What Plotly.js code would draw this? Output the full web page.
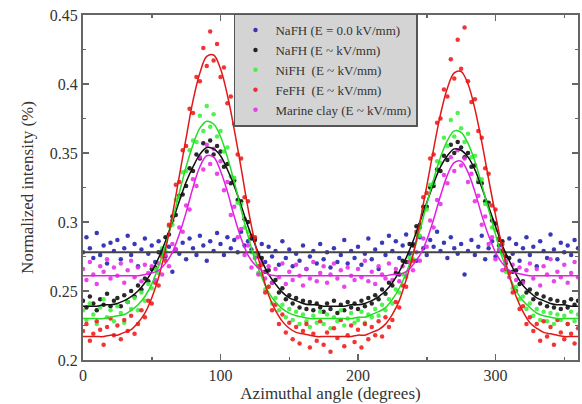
<!DOCTYPE html>
<html>
<head>
<meta charset="utf-8">
<script src="https://cdn.plot.ly/plotly-3.0.1.min.js"></script>
<style>html,body{margin:0;padding:0;background:#fff;}#chart{width:582px;height:404px;}</style>
</head>
<body>
<div id="chart"></div>
<script>
// Azimuthal angles of the measured points (degrees)
const angles = [0,2.5,5,7.5,10,12.5,15,17.5,20,22.5,25,27.5,30,32.5,35,37.5,40,42.5,45,47.5,50,52.5,55,57.5,60,62.5,65,67.5,70,72.5,75,77.5,80,82.5,85,87.5,90,92.5,95,97.5,100,102.5,105,107.5,110,112.5,115,117.5,120,122.5,125,127.5,130,132.5,135,137.5,140,142.5,145,147.5,150,152.5,155,157.5,160,162.5,165,167.5,170,172.5,175,177.5,180,182.5,185,187.5,190,192.5,195,197.5,200,202.5,205,207.5,210,212.5,215,217.5,220,222.5,225,227.5,230,232.5,235,237.5,240,242.5,245,247.5,250,252.5,255,257.5,260,262.5,265,267.5,270,272.5,275,277.5,280,282.5,285,287.5,290,292.5,295,297.5,300,302.5,305,307.5,310,312.5,315,317.5,320,322.5,325,327.5,330,332.5,335,337.5,340,342.5,345,347.5,350,352.5,355,357.5,360];

// Angles of the fitted curves (degrees)
const fitAngles = [0,5,10,15,20,25,30,35,40,45,50,55,60,65,70,75,80,85,90,95,100,105,110,115,120,125,130,135,140,145,150,155,160,165,170,175,180,185,190,195,200,205,210,215,220,225,230,235,240,245,250,255,260,265,270,275,280,285,290,295,300,305,310,315,320,325,330,335,340,345,350,355,360];

const seriesNames = ["NaFH (E = 0.0 kV/mm)", "NaFH (E ~ kV/mm)", "NiFH\u00a0 (E ~ kV/mm)", "FeFH\u00a0 (E ~ kV/mm)", "Marine clay (E ~ kV/mm)"];

const nafh0 = [0.278,0.289,0.281,0.274,0.292,0.276,0.283,0.270,0.285,0.279,
0.287,0.273,0.281,0.290,0.276,0.284,0.268,0.280,0.288,0.277,
0.283,0.271,0.286,0.279,0.275,0.282,0.264,0.280,0.277,0.285,
0.273,0.288,0.281,0.276,0.290,0.283,0.272,0.286,0.279,0.292,
0.284,0.276,0.289,0.281,0.287,0.278,0.293,0.283,0.286,0.280,
0.288,0.277,0.284,0.271,0.282,0.275,0.279,0.269,0.286,0.274,
0.280,0.268,0.277,0.272,0.283,0.266,0.275,0.279,0.270,0.284,
0.273,0.278,0.267,0.281,0.271,0.276,0.287,0.270,0.279,0.274,
0.282,0.269,0.277,0.288,0.273,0.280,0.266,0.285,0.276,0.290,
0.279,0.286,0.274,0.283,0.291,0.277,0.284,0.272,0.289,0.281,
0.276,0.287,0.282,0.293,0.279,0.285,0.274,0.289,0.281,0.277,
0.284,0.262,0.279,0.287,0.276,0.282,0.290,0.273,0.281,0.286,
0.275,0.283,0.279,0.270,0.288,0.277,0.284,0.272,0.281,0.289,
0.276,0.282,0.268,0.286,0.279,0.274,0.291,0.280,0.273,0.285,
0.278,0.283,0.276,0.287,0.281];

const nafhE = [0.243,0.238,0.246,0.241,0.236,0.244,0.240,0.248,0.239,0.243,
0.245,0.239,0.247,0.242,0.250,0.246,0.254,0.251,0.259,0.257,
0.266,0.267,0.278,0.277,0.289,0.291,0.304,0.305,0.319,0.320,
0.326,0.339,0.337,0.349,0.346,0.357,0.351,0.359,0.349,0.355,
0.351,0.340,0.342,0.328,0.330,0.316,0.315,0.302,0.300,0.288,
0.287,0.275,0.274,0.264,0.265,0.256,0.258,0.249,0.252,0.244,
0.247,0.241,0.245,0.238,0.243,0.237,0.242,0.236,0.241,0.238,
0.235,0.241,0.237,0.243,0.234,0.240,0.236,0.242,0.238,0.241,
0.237,0.243,0.239,0.245,0.241,0.247,0.244,0.251,0.248,0.256,
0.254,0.263,0.262,0.272,0.271,0.284,0.283,0.297,0.298,0.311,
0.311,0.325,0.326,0.338,0.337,0.348,0.345,0.356,0.350,0.358,
0.354,0.347,0.350,0.340,0.341,0.329,0.328,0.315,0.314,0.301,
0.299,0.287,0.286,0.275,0.274,0.264,0.265,0.255,0.257,0.249,
0.251,0.244,0.248,0.241,0.246,0.239,0.244,0.238,0.243,0.237,
0.242,0.238,0.244,0.240,0.243];

const nifh = [0.236,0.229,0.241,0.233,0.226,0.238,0.244,0.231,0.236,0.228,
0.239,0.234,0.227,0.242,0.237,0.245,0.236,0.249,0.243,0.255,
0.252,0.266,0.263,0.281,0.279,0.297,0.298,0.316,0.318,0.336,
0.337,0.352,0.359,0.358,0.377,0.366,0.384,0.369,0.378,0.362,
0.366,0.351,0.354,0.333,0.332,0.314,0.313,0.296,0.293,0.278,
0.276,0.263,0.262,0.251,0.253,0.241,0.245,0.236,0.240,0.231,
0.237,0.229,0.235,0.226,0.233,0.228,0.224,0.232,0.227,0.235,
0.226,0.233,0.223,0.231,0.228,0.236,0.225,0.230,0.234,0.227,
0.229,0.235,0.227,0.233,0.231,0.237,0.232,0.240,0.236,0.244,
0.241,0.251,0.249,0.262,0.260,0.274,0.273,0.291,0.290,0.308,
0.309,0.327,0.328,0.344,0.343,0.361,0.355,0.374,0.362,0.379,
0.368,0.358,0.364,0.347,0.348,0.331,0.331,0.313,0.312,0.296,
0.294,0.279,0.277,0.264,0.264,0.252,0.253,0.244,0.246,0.237,
0.241,0.232,0.237,0.229,0.235,0.228,0.234,0.226,0.233,0.229,
0.232,0.226,0.235,0.228,0.233];

const fefh = [0.221,0.226,0.214,0.219,0.228,0.222,0.211,0.224,0.230,0.218,
0.225,0.215,0.229,0.221,0.232,0.219,0.226,0.236,0.231,0.243,
0.241,0.256,0.254,0.275,0.272,0.298,0.301,0.327,0.329,0.352,
0.355,0.382,0.379,0.405,0.402,0.426,0.413,0.438,0.417,0.429,
0.405,0.412,0.386,0.391,0.371,0.349,0.346,0.318,0.315,0.290,
0.289,0.268,0.269,0.249,0.253,0.236,0.240,0.226,0.233,0.220,
0.227,0.215,0.224,0.212,0.221,0.226,0.209,0.219,0.214,0.228,
0.211,0.220,0.206,0.223,0.216,0.229,0.210,0.218,0.225,0.213,
0.222,0.209,0.226,0.215,0.224,0.218,0.228,0.217,0.231,0.224,
0.229,0.242,0.238,0.254,0.253,0.271,0.272,0.293,0.296,0.318,
0.321,0.346,0.349,0.372,0.375,0.396,0.391,0.418,0.404,0.432,
0.411,0.441,0.402,0.387,0.389,0.366,0.361,0.339,0.335,0.312,
0.309,0.288,0.284,0.266,0.263,0.249,0.250,0.237,0.239,0.226,
0.231,0.221,0.226,0.214,0.228,0.217,0.224,0.211,0.229,0.220,
0.215,0.226,0.219,0.212,0.223];

const marineClay = [0.266,0.258,0.271,0.262,0.255,0.268,0.264,0.273,0.259,0.267,
0.261,0.270,0.256,0.265,0.272,0.260,0.267,0.257,0.269,0.263,
0.268,0.258,0.270,0.262,0.276,0.268,0.284,0.280,0.296,0.293,
0.312,0.309,0.331,0.326,0.347,0.338,0.356,0.342,0.353,0.335,
0.344,0.323,0.329,0.305,0.311,0.289,0.295,0.276,0.283,0.267,
0.274,0.262,0.271,0.259,0.268,0.256,0.266,0.260,0.270,0.255,
0.264,0.258,0.269,0.261,0.254,0.266,0.259,0.271,0.257,0.263,
0.268,0.256,0.262,0.270,0.259,0.265,0.253,0.267,0.261,0.258,
0.266,0.260,0.272,0.257,0.264,0.255,0.268,0.262,0.259,0.270,
0.258,0.266,0.257,0.268,0.261,0.271,0.265,0.278,0.272,0.288,
0.282,0.301,0.296,0.316,0.313,0.334,0.328,0.347,0.337,0.352,
0.341,0.346,0.329,0.335,0.315,0.319,0.298,0.304,0.284,0.289,
0.273,0.280,0.265,0.272,0.260,0.269,0.258,0.267,0.256,0.265,
0.270,0.259,0.266,0.254,0.268,0.262,0.273,0.257,0.264,0.260,
0.269,0.256,0.263,0.271,0.260];

// Fitted curves
const flatFitAngles = [0, 360];
const flatFit = [0.278, 0.278];
const blackFit = [0.239,0.239,0.239,0.240,0.240,0.241,0.243,0.246,0.250,0.256,0.264,0.274,0.286,0.300,0.315,0.329,0.340,0.349,0.354,0.353,0.348,0.338,0.326,0.312,0.297,0.284,0.272,0.262,0.255,0.249,0.245,0.243,0.241,0.240,0.240,0.239,0.239,0.239,0.239,0.240,0.240,0.241,0.243,0.246,0.250,0.256,0.264,0.274,0.286,0.300,0.314,0.328,0.340,0.348,0.353,0.352,0.347,0.338,0.325,0.311,0.297,0.283,0.272,0.262,0.254,0.249,0.245,0.243,0.241,0.240,0.240,0.239,0.239];
const greenFit = [0.230,0.230,0.230,0.230,0.231,0.232,0.233,0.236,0.240,0.246,0.255,0.268,0.283,0.301,0.321,0.340,0.356,0.368,0.373,0.371,0.362,0.347,0.329,0.309,0.290,0.273,0.260,0.249,0.242,0.237,0.234,0.232,0.231,0.230,0.230,0.230,0.230,0.230,0.230,0.230,0.231,0.231,0.233,0.235,0.238,0.244,0.252,0.263,0.277,0.294,0.313,0.331,0.347,0.359,0.366,0.365,0.357,0.344,0.327,0.309,0.291,0.274,0.261,0.250,0.243,0.238,0.234,0.232,0.231,0.230,0.230,0.230,0.230];
const redFit = [0.217,0.217,0.217,0.217,0.218,0.218,0.220,0.222,0.227,0.234,0.245,0.260,0.280,0.305,0.333,0.361,0.388,0.408,0.420,0.421,0.411,0.392,0.367,0.339,0.310,0.285,0.264,0.247,0.236,0.228,0.223,0.220,0.219,0.218,0.217,0.217,0.217,0.217,0.217,0.217,0.218,0.218,0.220,0.222,0.226,0.233,0.243,0.258,0.276,0.300,0.326,0.353,0.378,0.397,0.408,0.409,0.400,0.382,0.358,0.331,0.305,0.281,0.261,0.246,0.235,0.227,0.223,0.220,0.219,0.218,0.217,0.217,0.217];
const magentaFit = [0.261,0.261,0.261,0.261,0.261,0.261,0.261,0.261,0.261,0.262,0.263,0.265,0.270,0.278,0.291,0.307,0.325,0.340,0.348,0.347,0.337,0.322,0.304,0.288,0.276,0.269,0.265,0.262,0.261,0.261,0.261,0.261,0.261,0.261,0.261,0.261,0.261,0.261,0.261,0.261,0.261,0.261,0.261,0.261,0.261,0.262,0.262,0.264,0.269,0.276,0.287,0.302,0.319,0.334,0.343,0.344,0.336,0.322,0.305,0.290,0.278,0.270,0.265,0.263,0.262,0.261,0.261,0.261,0.261,0.261,0.261,0.261,0.261];

const FONT = 'Liberation Serif';
const pointColors = ['#2323b0', '#111111', '#3ef03e', '#f01e1e', '#e632e6'];
const pointData = [nafh0, nafhE, nifh, fefh, marineClay];

const traces = [];
pointData.forEach((ys, i) => {
  traces.push({
    type: 'scatter', mode: 'markers', name: seriesNames[i],
    x: angles, y: ys,
    marker: {color: pointColors[i], size: 4.5, opacity: 0.9},
    hoverinfo: 'skip'
  });
});
const fitDefs = [
  [flatFitAngles, flatFit, '#444444', 2],
  [fitAngles, blackFit, '#111111', 1.5],
  [fitAngles, greenFit, '#22dd22', 1.5],
  [fitAngles, redFit, '#e01818', 1.5],
  [fitAngles, magentaFit, '#e020e0', 1.5]
];
fitDefs.forEach(d => {
  traces.push({
    type: 'scatter', mode: 'lines', x: d[0], y: d[1], showlegend: false,
    line: {color: d[2], width: d[3], shape: 'spline', smoothing: 1},
    hoverinfo: 'skip'
  });
});

const axisCommon = {
  ticks: 'inside', ticklen: 6, tickwidth: 1.5, tickcolor: '#666',
  showline: true, linecolor: '#666', linewidth: 2, mirror: 'ticks',
  showgrid: false, zeroline: false,
  tickfont: {family: FONT, size: 16, color: '#333'}
};

const layout = {
  width: 582, height: 404,
  font: {family: FONT, color: '#333'},
  margin: {l: 83, r: 4, t: 15, b: 44},
  paper_bgcolor: '#fff', plot_bgcolor: '#fff',
  showlegend: true,
  legend: {
    x: 0.305, y: 1.004, xanchor: 'left', yanchor: 'top',
    bgcolor: '#d4d4d4', bordercolor: '#555', borderwidth: 1.5,
    font: {family: FONT, size: 13, color: '#333'},
    tracegroupgap: 0
  },
  xaxis: Object.assign({}, axisCommon, {
    range: [0, 360], tickmode: 'array', tickvals: [0, 100, 200, 300],
    minor: {dtick: 50, tick0: 0, ticks: 'inside', ticklen: 3, tickcolor: '#666'},
    title: {text: 'Azimuthal angle (degrees)', font: {family: FONT, size: 17, color: '#333'}, standoff: 1}
  }),
  yaxis: Object.assign({}, axisCommon, {
    range: [0.2, 0.45], tick0: 0.2, dtick: 0.05,
    minor: {dtick: 0.025, tick0: 0.2, ticks: 'inside', ticklen: 3, tickcolor: '#666'},
    title: {text: 'Normalized intensity (%)', font: {family: FONT, size: 17, color: '#333'}, standoff: 12}
  })
};

Plotly.newPlot('chart', traces, layout, {displayModeBar: false, staticPlot: true});
</script>
</body>
</html>
